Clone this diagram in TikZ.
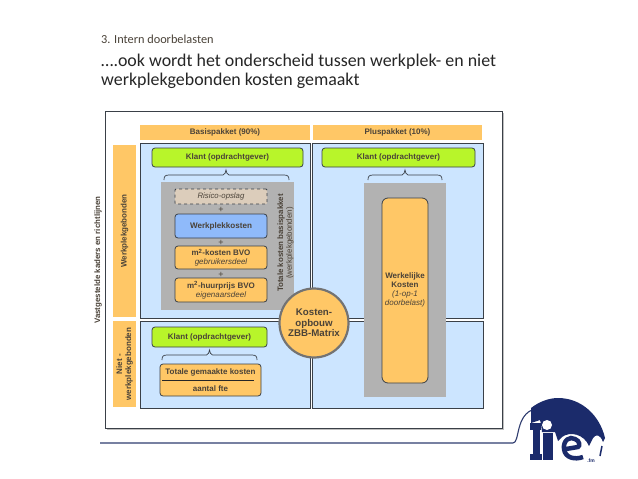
\documentclass[tikz,border=0pt]{standalone}
\usepackage{fontspec}
\setmainfont{Liberation Sans}
\newfontfamily\titlefont{Carlito}
\definecolor{orng}{HTML}{FFC766}
\definecolor{pale}{HTML}{CCE5FF}
\definecolor{lime}{HTML}{B8F52A}
\definecolor{blu}{HTML}{8FBAFA}
\definecolor{gry}{HTML}{B2B2B2}
\definecolor{ink}{HTML}{4A4238}
\definecolor{edge}{HTML}{3A4048}
\definecolor{navy}{HTML}{1B2B6B}
\definecolor{tan}{HTML}{DCCDBB}
\tikzset{x=1pt,y=-1pt,
 panel/.style={draw=edge,fill=pale,line width=0.9pt},
 band/.style={fill=orng,text=ink,font=\bfseries\fontsize{8}{9}\selectfont,align=center,inner sep=0pt},
 pill/.style={draw=edge,line width=0.8pt,rounded corners=3pt,text=ink,inner sep=0pt,align=center,font=\bfseries\fontsize{8}{9.2}\selectfont},
 plusmark/.style={text=ink,font=\fontsize{9}{9}\selectfont,inner sep=0pt},
 bracebar/.style={draw=edge,line width=0.7pt},
}
\newcommand{\bracepath}[4]{% x1, xmid, x2, ybottom
 \draw[bracebar] (#1,#4) .. controls (#1,#4-3.5) and (#1+1,#4-5) .. (#1+5,#4-5) -- (#2-3,#4-5) .. controls (#2-1,#4-5) and (#2-0.5,#4-8) .. (#2,#4-10) .. controls (#2+0.5,#4-8) and (#2+1,#4-5) .. (#2+3,#4-5) -- (#3-5,#4-5) .. controls (#3-1,#4-5) and (#3,#4-3.5) .. (#3,#4);}
\begin{document}
\begin{tikzpicture}
\useasboundingbox (0,0) rectangle (638,479);
\fill[white] (0,0) rectangle (638,479);
% titles
\node[anchor=base west,inner sep=0pt,text=ink,font=\titlefont\fontsize{12.3}{14}\selectfont] (t1) at (101,43) {3. Intern doorbelasten};
\node[anchor=base west,inner sep=0pt,text=black!85,font=\titlefont\fontsize{17.9}{20}\selectfont] (t2) at (101,66) {….ook wordt het onderscheid tussen werkplek- en niet};
\node[anchor=base west,inner sep=0pt,text=black!85,font=\titlefont\fontsize{17.9}{20}\selectfont] (t3) at (101,85) {werkplekgebonden kosten gemaakt};
% frame
\fill[black!25] (106.5,112.5) rectangle (503.5,429.5);
\draw[edge,fill=white,line width=1pt] (105,111) rectangle (502,428);
% panels
\draw[panel] (140,143) rectangle (310,318);
\draw[panel] (312,143) rectangle (483,318);
\draw[panel] (140,321) rectangle (310,408);
\draw[panel] (312,321) rectangle (483,408);
% headers
\node[band,minimum width=170pt,minimum height=15pt] (basis) at (225,132.5) {Basispakket (90\%)};
\node[band,minimum width=169pt,minimum height=15pt] (plus) at (397.5,132.5) {Pluspakket (10\%)};
\node[band,minimum width=172pt,minimum height=23pt,rotate=90] (wp) at (124.5,231) {Werkplekgebonden};
\node[band,minimum width=86pt,minimum height=23pt,rotate=90] (nwp) at (124.5,364) {Niet -\\werkplekgebonden};
\node[rotate=90,text=ink,inner sep=0pt,font=\bfseries\fontsize{7.9}{9}\selectfont] (vast) at (98,260) {Vastgestelde kaders en richtlijnen};
% grey boxes
\fill[gry] (161,182) rectangle (294,310);
\fill[gry] (364,183) rectangle (446,397);
% green
\node[pill,fill=lime,minimum width=151pt,minimum height=19pt] (k1) at (227.5,157.5) {Klant (opdrachtgever)};
\node[pill,fill=lime,minimum width=153pt,minimum height=19pt] (k2) at (398.5,157.5) {Klant (opdrachtgever)};
\node[pill,fill=lime,minimum width=115pt,minimum height=20pt] (k3) at (209.5,337) {Klant (opdrachtgever)};
% braces
\bracepath{164}{226}{289}{180}
\bracepath{368}{405}{442}{180}
\bracepath{162}{209.5}{257}{360}
% stack
\node[pill,fill=tan,dashed,rounded corners=1pt,minimum width=92pt,minimum height=15pt,font=\itshape\fontsize{7.8}{9}\selectfont] (ris) at (221,196.5) {Risico-opslag};
\node[plusmark] (p1) at (221,210) {+};
\node[pill,fill=blu,minimum width=92pt,minimum height=24pt,font=\bfseries\fontsize{8.1}{9}\selectfont] (wk) at (221,226) {Werkplekkosten};
\node[plusmark] (p2) at (221,243) {+};
\node[pill,fill=orng,minimum width=92pt,minimum height=23pt] (m1) at (221,257.5) {m\textsuperscript{2}-kosten BVO\\[-0.5pt]{\itshape\mdseries gebruikersdeel}};
\node[plusmark] (p3) at (221,275) {+};
\node[pill,fill=orng,minimum width=92pt,minimum height=24pt] (m2) at (221,290) {m\textsuperscript{2}-huurprijs BVO\\[-0.5pt]{\itshape\mdseries eigenaarsdeel}};
\node[rotate=90,text=ink,inner sep=0pt,align=center,font=\fontsize{7.9}{8.8}\selectfont] (tot) at (285.5,243) {\textbf{Totale kosten basispakket}\\(werkplekgebonden)};
% right tall
\node[pill,fill=orng,rounded corners=6pt,minimum width=46pt,minimum height=185pt] (wer) at (405,290.5) {};
\node[text=ink,inner sep=0pt,align=center,font=\bfseries\fontsize{8}{9}\selectfont] (wert) at (405,290) {Werkelijke\\Kosten\\{\itshape\mdseries (1-op-1}\\{\itshape\mdseries doorbelast)}};
% bottom left
\node[pill,fill=orng,minimum width=101pt,minimum height=32pt] (tg) at (210.5,380) {};
\node[text=ink,inner sep=0pt,font=\bfseries\fontsize{8}{9}\selectfont] (tg1) at (210.5,372) {Totale gemaakte kosten};
\node[text=ink,inner sep=0pt,font=\bfseries\fontsize{8}{9}\selectfont] (tg2) at (210.5,389) {aantal fte};
\draw[black!85,line width=0.7pt] (162,380.5) -- (254,380.5);
% circle
\node[circle,draw=black!55,line width=2.2pt,fill=orng,minimum size=69pt,inner sep=0pt] (c) at (314,323) {};
\node[text=ink,inner sep=0pt,align=center,font=\bfseries\fontsize{9.7}{10.6}\selectfont] (ct) at (314,323) {Kosten-\\opbouw\\ZBB-Matrix};
% bottom line + logo
\draw[navy!80!gray,line width=1.1pt] (100,443) -- (513,443) .. controls (520,443) and (515,414) .. (535,409);
\fill[navy] (531,408) .. controls (540,401) and (550,398) .. (558,398) .. controls (582,398) and (600,416) .. (605,438)
 -- (603,442) .. controls (600,434) and (596,434) .. (593,438) -- (589,446) .. controls (584,434) and (570,431) .. (562,437) -- (558,441) -- (555,432) -- (542,432) -- (541,424) -- (540,420) -- (531,423) -- cycle;
\fill[navy] (530,423) rectangle (541,430);
\fill[navy] (533,430) rectangle (540,460);
\fill[navy] (530,454) rectangle (542,460);
\fill[white] (547,425) circle (5pt);
\fill[navy] (543,433) rectangle (553,460);
\draw[navy,line width=4.5pt] (583,457) .. controls (575,460) and (565,458) .. (564,449) .. controls (563,440) and (570,436) .. (575,439) .. controls (580,441) and (580,446) .. (578,447) -- (566,449);
\draw[navy,line width=1.5pt] (602,446) -- (600,456);
\node[text=navy,inner sep=0pt,font=\bfseries\fontsize{5}{5}\selectfont] (fm) at (591,461) {.fm};
\end{tikzpicture}
\end{document}
